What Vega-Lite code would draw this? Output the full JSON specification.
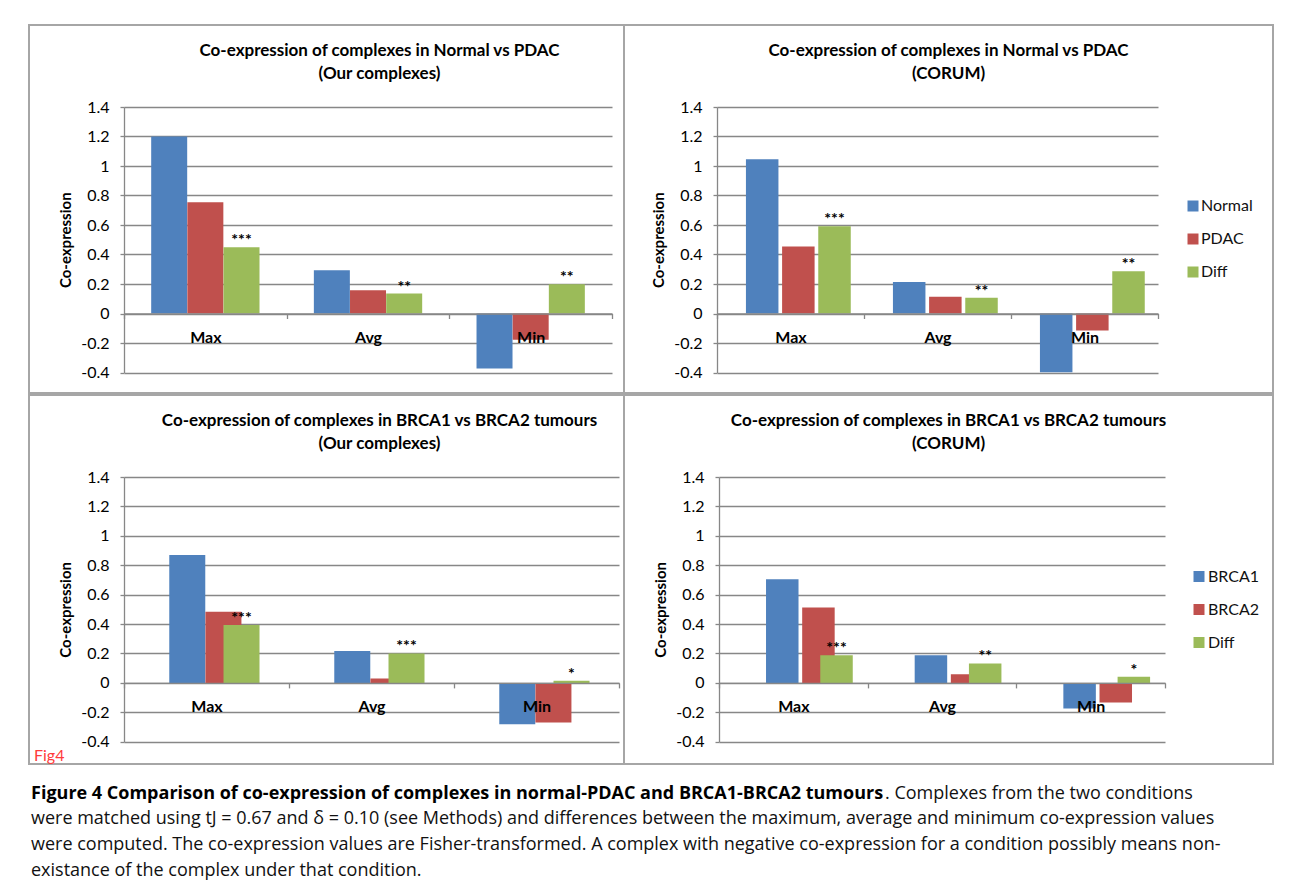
{
  "$schema": "https://vega.github.io/schema/vega-lite/v6.json",
  "background": "white",
  "padding": {"left": 28, "top": 24, "right": 0, "bottom": 0},
  "spacing": 0,
  "resolve": {"scale": {"color": "independent"}, "legend": {"color": "independent"}},
  "datasets": {
    "bars": [
      {"panel": "P1", "cat": "Max", "series": "Normal", "value": 1.2, "sig": ""},
      {"panel": "P1", "cat": "Max", "series": "PDAC", "value": 0.755, "sig": ""},
      {"panel": "P1", "cat": "Max", "series": "Diff", "value": 0.45, "sig": "***"},
      {"panel": "P1", "cat": "Avg", "series": "Normal", "value": 0.294, "sig": ""},
      {"panel": "P1", "cat": "Avg", "series": "PDAC", "value": 0.158, "sig": ""},
      {"panel": "P1", "cat": "Avg", "series": "Diff", "value": 0.135, "sig": "**"},
      {"panel": "P1", "cat": "Min", "series": "Normal", "value": -0.373, "sig": ""},
      {"panel": "P1", "cat": "Min", "series": "PDAC", "value": -0.178, "sig": ""},
      {"panel": "P1", "cat": "Min", "series": "Diff", "value": 0.198, "sig": "**"},
      {"panel": "P2", "cat": "Max", "series": "Normal", "value": 1.045, "sig": ""},
      {"panel": "P2", "cat": "Max", "series": "PDAC", "value": 0.455, "sig": ""},
      {"panel": "P2", "cat": "Max", "series": "Diff", "value": 0.592, "sig": "***"},
      {"panel": "P2", "cat": "Avg", "series": "Normal", "value": 0.214, "sig": ""},
      {"panel": "P2", "cat": "Avg", "series": "PDAC", "value": 0.113, "sig": ""},
      {"panel": "P2", "cat": "Avg", "series": "Diff", "value": 0.106, "sig": "**"},
      {"panel": "P2", "cat": "Min", "series": "Normal", "value": -0.398, "sig": ""},
      {"panel": "P2", "cat": "Min", "series": "PDAC", "value": -0.115, "sig": ""},
      {"panel": "P2", "cat": "Min", "series": "Diff", "value": 0.287, "sig": "**"},
      {"panel": "P3", "cat": "Max", "series": "BRCA1", "value": 0.869, "sig": ""},
      {"panel": "P3", "cat": "Max", "series": "BRCA2", "value": 0.483, "sig": ""},
      {"panel": "P3", "cat": "Max", "series": "Diff", "value": 0.393, "sig": "***"},
      {"panel": "P3", "cat": "Avg", "series": "BRCA1", "value": 0.216, "sig": ""},
      {"panel": "P3", "cat": "Avg", "series": "BRCA2", "value": 0.03, "sig": ""},
      {"panel": "P3", "cat": "Avg", "series": "Diff", "value": 0.2, "sig": "***"},
      {"panel": "P3", "cat": "Min", "series": "BRCA1", "value": -0.281, "sig": ""},
      {"panel": "P3", "cat": "Min", "series": "BRCA2", "value": -0.27, "sig": ""},
      {"panel": "P3", "cat": "Min", "series": "Diff", "value": 0.014, "sig": "*"},
      {"panel": "P4", "cat": "Max", "series": "BRCA1", "value": 0.705, "sig": ""},
      {"panel": "P4", "cat": "Max", "series": "BRCA2", "value": 0.513, "sig": ""},
      {"panel": "P4", "cat": "Max", "series": "Diff", "value": 0.188, "sig": "***"},
      {"panel": "P4", "cat": "Avg", "series": "BRCA1", "value": 0.188, "sig": ""},
      {"panel": "P4", "cat": "Avg", "series": "BRCA2", "value": 0.059, "sig": ""},
      {"panel": "P4", "cat": "Avg", "series": "Diff", "value": 0.132, "sig": "**"},
      {"panel": "P4", "cat": "Min", "series": "BRCA1", "value": -0.174, "sig": ""},
      {"panel": "P4", "cat": "Min", "series": "BRCA2", "value": -0.133, "sig": ""},
      {"panel": "P4", "cat": "Min", "series": "Diff", "value": 0.041, "sig": "*"}
    ],
    "caption": [
      {"line": 1, "part": "head", "text": "Figure 4 Comparison of co-expression of complexes in normal-PDAC and BRCA1-BRCA2 tumours"},
      {"line": 1, "part": "tail", "text": ". Complexes from the two conditions"},
      {"line": 2, "part": "body", "text": "were matched using tJ = 0.67 and δ = 0.10 (see Methods) and differences between the maximum, average and minimum co-expression values"},
      {"line": 3, "part": "body", "text": "were computed. The co-expression values are Fisher-transformed. A complex with negative co-expression for a condition possibly means non-"},
      {"line": 4, "part": "body", "text": "existance of the complex under that condition."}
    ]
  },
  "vconcat": [
    {
      "hconcat": [
        {
          "width": 595, "height": 368,
          "data": {"name": "bars"},
          "transform": [{"filter": "datum.panel === 'P1'"}],
          "title": {"text": ["Co-expression of complexes in Normal vs PDAC", "(Our complexes)"], "dx": 53, "offset": -58},
          "encoding": {
            "x": {"field": "cat", "type": "nominal", "sort": ["Max", "Avg", "Min"], "scale": {"range": [95, 583], "paddingInner": 0, "paddingOuter": 0}, "axis": {"offset": -79.5, "title": null, "tickBand": "extent", "zindex": 1}},
            "xOffset": {"field": "series", "type": "nominal", "sort": ["Normal", "PDAC", "Diff"], "scale": {"range": [36.15, 126.55], "paddingInner": 0, "paddingOuter": 0}},
            "y": {"field": "value", "type": "quantitative", "scale": {"domain": [-0.4, 1.4], "range": [347.5, 82], "nice": false, "zero": false}, "axis": {"offset": -95, "title": "Co-expression", "values": [-0.4, -0.2, 0, 0.2, 0.4, 0.6, 0.8, 1, 1.2, 1.4], "labelExpr": "'' + datum.value"}}
          },
          "layer": [
            {"mark": {"type": "bar", "width": 36}, "encoding": {"color": {"field": "series", "type": "nominal", "scale": {"domain": ["Normal", "PDAC", "Diff"], "range": ["#4f81bd", "#c0504d", "#9bbb59"]}, "legend": null}}},
            {"transform": [{"filter": "datum.sig !== ''"}], "mark": {"type": "text", "baseline": "alphabetic", "dy": -2, "font": "Lato", "fontWeight": "bold", "fontSize": 16, "color": "#000000"}, "encoding": {"text": {"field": "sig"}}}
          ]
        },
        {
          "width": 649, "height": 368,
          "data": {"name": "bars"},
          "transform": [{"filter": "datum.panel === 'P2'"}],
          "title": {"text": ["Co-expression of complexes in Normal vs PDAC", "(CORUM)"], "dx": 0, "offset": -58},
          "encoding": {
            "x": {"field": "cat", "type": "nominal", "sort": ["Max", "Avg", "Min"], "scale": {"range": [93, 534], "paddingInner": 0, "paddingOuter": 0}, "axis": {"offset": -79.5, "title": null, "tickBand": "extent", "zindex": 1}},
            "xOffset": {"field": "series", "type": "nominal", "sort": ["Normal", "PDAC", "Diff"], "scale": {"range": [32.7, 114.3], "paddingInner": 0, "paddingOuter": 0}},
            "y": {"field": "value", "type": "quantitative", "scale": {"domain": [-0.4, 1.4], "range": [347.5, 82], "nice": false, "zero": false}, "axis": {"offset": -93, "title": "Co-expression", "values": [-0.4, -0.2, 0, 0.2, 0.4, 0.6, 0.8, 1, 1.2, 1.4], "labelExpr": "'' + datum.value"}}
          },
          "layer": [
            {"mark": {"type": "bar", "width": 32.5}, "encoding": {"color": {"field": "series", "type": "nominal", "sort": ["Normal", "PDAC", "Diff"], "scale": {"domain": ["Normal", "PDAC", "Diff"], "range": ["#4f81bd", "#c0504d", "#9bbb59"]}, "legend": {"orient": "none", "legendX": 561, "legendY": 173, "title": null, "labelOffset": 0}}}},
            {"transform": [{"filter": "datum.sig !== ''"}], "mark": {"type": "text", "baseline": "alphabetic", "dy": -2, "font": "Lato", "fontWeight": "bold", "fontSize": 16, "color": "#000000"}, "encoding": {"text": {"field": "sig"}}}
          ]
        }
      ],
      "spacing": 0,
      "bounds": "flush",
      "resolve": {"scale": {"color": "independent"}, "legend": {"color": "independent"}}
    },
    {
      "hconcat": [
        {
          "width": 595, "height": 369,
          "data": {"name": "bars"},
          "transform": [{"filter": "datum.panel === 'P3'"}],
          "title": {"text": ["Co-expression of complexes in BRCA1 vs BRCA2 tumours", "(Our complexes)"], "dx": 53, "offset": -58},
          "encoding": {
            "x": {"field": "cat", "type": "nominal", "sort": ["Max", "Avg", "Min"], "scale": {"range": [95, 590], "paddingInner": 0, "paddingOuter": 0}, "axis": {"offset": -81.1, "title": null, "tickBand": "extent", "zindex": 1}},
            "xOffset": {"field": "series", "type": "nominal", "sort": ["BRCA1", "BRCA2", "Diff"], "scale": {"range": [37.3, 127.7], "paddingInner": 0, "paddingOuter": 0}},
            "y": {"field": "value", "type": "quantitative", "scale": {"domain": [-0.4, 1.4], "range": [346.7, 82], "nice": false, "zero": false}, "axis": {"offset": -95, "title": "Co-expression", "values": [-0.4, -0.2, 0, 0.2, 0.4, 0.6, 0.8, 1, 1.2, 1.4], "labelExpr": "'' + datum.value"}}
          },
          "layer": [
            {"mark": {"type": "bar", "width": 36}, "encoding": {"color": {"field": "series", "type": "nominal", "scale": {"domain": ["BRCA1", "BRCA2", "Diff"], "range": ["#4f81bd", "#c0504d", "#9bbb59"]}, "legend": null}}},
            {"transform": [{"filter": "datum.sig !== ''"}], "mark": {"type": "text", "baseline": "alphabetic", "dy": -2, "font": "Lato", "fontWeight": "bold", "fontSize": 16, "color": "#000000"}, "encoding": {"text": {"field": "sig"}}}
          ]
        },
        {
          "width": 649, "height": 369,
          "data": {"name": "bars"},
          "transform": [{"filter": "datum.panel === 'P4'"}],
          "title": {"text": ["Co-expression of complexes in BRCA1 vs BRCA2 tumours", "(CORUM)"], "dx": 0, "offset": -58},
          "encoding": {
            "x": {"field": "cat", "type": "nominal", "sort": ["Max", "Avg", "Min"], "scale": {"range": [95, 541], "paddingInner": 0, "paddingOuter": 0}, "axis": {"offset": -81.1, "title": null, "tickBand": "extent", "zindex": 1}},
            "xOffset": {"field": "series", "type": "nominal", "sort": ["BRCA1", "BRCA2", "Diff"], "scale": {"range": [33.55, 115.15], "paddingInner": 0, "paddingOuter": 0}},
            "y": {"field": "value", "type": "quantitative", "scale": {"domain": [-0.4, 1.4], "range": [346.7, 82], "nice": false, "zero": false}, "axis": {"offset": -95, "title": "Co-expression", "values": [-0.4, -0.2, 0, 0.2, 0.4, 0.6, 0.8, 1, 1.2, 1.4], "labelExpr": "'' + datum.value"}}
          },
          "layer": [
            {"mark": {"type": "bar", "width": 32.5}, "encoding": {"color": {"field": "series", "type": "nominal", "sort": ["BRCA1", "BRCA2", "Diff"], "scale": {"domain": ["BRCA1", "BRCA2", "Diff"], "range": ["#4f81bd", "#c0504d", "#9bbb59"]}, "legend": {"orient": "none", "legendX": 567, "legendY": 173.5, "title": null, "labelOffset": 1}}}},
            {"transform": [{"filter": "datum.sig !== ''"}], "mark": {"type": "text", "baseline": "alphabetic", "dy": -2, "font": "Lato", "fontWeight": "bold", "fontSize": 16, "color": "#000000"}, "encoding": {"text": {"field": "sig"}}}
          ]
        }
      ],
      "spacing": 0,
      "bounds": "flush",
      "resolve": {"scale": {"color": "independent"}, "legend": {"color": "independent"}},
      "title": {"text": "Fig4", "orient": "bottom", "anchor": "start", "frame": "bounds", "offset": -17, "dx": 6, "color": "#ff3b3b", "font": "Lato", "fontSize": 16, "fontWeight": "normal"}
    },
    {
      "width": 1255, "height": 120,
      "view": {"stroke": null},
      "data": {"name": "caption"},
      "encoding": {
        "y": {"field": "line", "type": "quantitative", "scale": {"domain": [-0.109, 4.56], "reverse": true, "nice": false, "zero": false}, "axis": null},
        "text": {"field": "text"}
      },
      "layer": [
        {"transform": [{"filter": "datum.part === 'head'"}], "mark": {"type": "text", "align": "left", "baseline": "middle", "font": "Open Sans", "fontSize": 18, "fontWeight": "bold", "color": "#000000"}, "encoding": {"x": {"datum": 0, "type": "quantitative", "scale": {"domain": [-0.0016, 1], "nice": false, "zero": false}, "axis": null}}},
        {"transform": [{"filter": "datum.part === 'tail'"}], "mark": {"type": "text", "align": "left", "baseline": "middle", "font": "Open Sans", "fontSize": 18, "color": "#111111"}, "encoding": {"x": {"datum": 0.6816, "type": "quantitative", "axis": null}}},
        {"transform": [{"filter": "datum.part === 'body'"}], "mark": {"type": "text", "align": "left", "baseline": "middle", "font": "Open Sans", "fontSize": 18, "color": "#111111"}, "encoding": {"x": {"datum": 0, "type": "quantitative", "axis": null}}}
      ]
    }
  ],
  "config": {
    "font": "Lato",
    "view": {"stroke": "#a6a6a6", "strokeWidth": 2},
    "title": {"font": "Lato", "fontSize": 17, "fontWeight": "bold", "color": "#000000", "lineHeight": 23, "anchor": "middle", "frame": "group"},
    "axis": {"domainColor": "#878787", "domainWidth": 1.3, "tickColor": "#878787", "tickWidth": 1.3, "gridColor": "#878787", "gridWidth": 1.3, "labelColor": "#000000", "labelFont": "Lato", "labelFontSize": 16, "titleFont": "Lato", "titleFontSize": 15, "titleFontWeight": "bold", "titleColor": "#000000"},
    "axisX": {"grid": false, "tickSize": 5, "labelFontWeight": "bold", "labelAngle": 0, "labelPadding": 19, "labelBaseline": "middle"},
    "axisY": {"grid": true, "tickSize": 4, "labelPadding": 11, "titlePadding": 7},
    "legend": {"labelFont": "Lato", "labelFontSize": 16, "labelColor": "#111111", "symbolType": "square", "symbolSize": 121, "symbolStrokeWidth": 0, "rowPadding": 17, "padding": 0}
  }
}
